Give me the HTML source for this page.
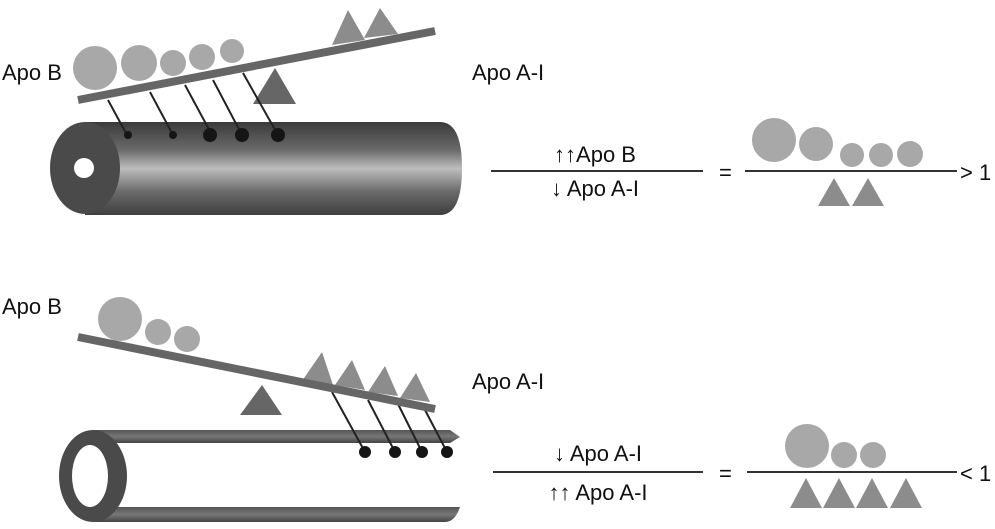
<!DOCTYPE html>
<html><head><style>
html,body{margin:0;padding:0;background:#fff;}
svg{display:block;}
text{font-family:"Liberation Sans",sans-serif;font-size:22px;fill:#111;}
</style></head><body>
<svg width="995" height="529" viewBox="0 0 995 529" xmlns="http://www.w3.org/2000/svg">
<defs>
<linearGradient id="tube" x1="0" y1="0" x2="0" y2="1">
<stop offset="0" stop-color="#3a3a3a"/>
<stop offset="0.3" stop-color="#6a6a6a"/>
<stop offset="0.5" stop-color="#bdbdbd"/>
<stop offset="0.75" stop-color="#6a6a6a"/>
<stop offset="1" stop-color="#3e3e3e"/>
</linearGradient>
<linearGradient id="bar" x1="0" y1="0" x2="0" y2="1">
<stop offset="0" stop-color="#555"/>
<stop offset="0.5" stop-color="#777"/>
<stop offset="1" stop-color="#444"/>
</linearGradient>
</defs>
<!-- TOP -->
<text x="2" y="80">Apo B</text>
<text x="472" y="80">Apo A-I</text>
<path d="M85 122 L440 122 Q462 122 462 168 Q462 215 440 215 L85 215 Z" fill="url(#tube)"/>
<ellipse cx="85" cy="168" rx="35" ry="46" fill="#4a4a4a"/>
<circle cx="84" cy="168" r="10" fill="#fff"/>
<polygon points="275,68 253,104 296,104" fill="#666"/>
<g stroke="#222" stroke-width="2">
<line x1="108" y1="100" x2="127" y2="135"/>
<line x1="150" y1="92" x2="173" y2="135"/>
<line x1="185" y1="85" x2="212" y2="135"/>
<line x1="213" y1="80" x2="242" y2="135"/>
<line x1="243" y1="73" x2="278" y2="135"/>
</g>
<g fill="#151515">
<circle cx="128" cy="135" r="4"/><circle cx="173" cy="135" r="4"/>
<circle cx="210" cy="135" r="7"/><circle cx="242" cy="135" r="7"/><circle cx="278" cy="135" r="7"/>
</g>
<polygon points="348,10 332,45 365,40" fill="#8c8c8c"/>
<polygon points="380,8 364,38 398,34" fill="#8c8c8c"/>
<g fill="#a8a8a8">
<circle cx="95" cy="68" r="22"/><circle cx="139" cy="63" r="18"/>
<circle cx="173" cy="63" r="13"/><circle cx="202" cy="57" r="13"/><circle cx="232" cy="51" r="12"/>
</g>
<line x1="78" y1="100" x2="435" y2="31" stroke="#666" stroke-width="8"/>
<text x="595" y="162" text-anchor="middle">↑↑Apo B</text>
<line x1="491" y1="171" x2="703" y2="171" stroke="#333" stroke-width="2"/>
<text x="595" y="196" text-anchor="middle">↓ Apo A-I</text>
<text x="719" y="180">=</text>
<line x1="745" y1="171" x2="957" y2="171" stroke="#333" stroke-width="2"/>
<text x="960" y="180">&gt; 1</text>
<g fill="#a8a8a8">
<circle cx="774" cy="140" r="22"/><circle cx="816" cy="144" r="17"/>
<circle cx="852" cy="155" r="12"/><circle cx="881" cy="155" r="12"/><circle cx="910" cy="154" r="13"/>
</g>
<polygon points="834,178 818,206 850,206" fill="#8c8c8c"/>
<polygon points="868,178 852,206 884,206" fill="#8c8c8c"/>
<!-- BOTTOM -->
<text x="2" y="314">Apo B</text>
<text x="472" y="389">Apo A-I</text>
<path d="M92 430 L450 430 L460 437 L450 443 L92 443 Z" fill="url(#bar)"/>
<path d="M92 507 L460 507 Q455 522 445 522 L92 522 Z" fill="url(#bar)"/>
<ellipse cx="93" cy="476" rx="34" ry="46" fill="#4a4a4a"/>
<ellipse cx="90" cy="476" rx="18" ry="31" fill="#fff"/>
<polygon points="262,385 240,415 282,415" fill="#666"/>
<g stroke="#222" stroke-width="2">
<line x1="332" y1="392" x2="365" y2="452"/>
<line x1="368" y1="400" x2="395" y2="452"/>
<line x1="398" y1="404" x2="422" y2="452"/>
<line x1="425" y1="410" x2="447" y2="452"/>
</g>
<g fill="#151515">
<circle cx="365" cy="452" r="6"/><circle cx="395" cy="452" r="6"/>
<circle cx="422" cy="452" r="6"/><circle cx="447" cy="452" r="6"/>
</g>
<g fill="#8c8c8c">
<polygon points="322,352 302,381 333,385"/>
<polygon points="352,360 335,385 365,390"/>
<polygon points="385,366 368,392 398,396"/>
<polygon points="416,373 400,398 430,402"/>
</g>
<g fill="#a8a8a8">
<circle cx="120" cy="319" r="22"/><circle cx="158" cy="332" r="13"/><circle cx="187" cy="339" r="13"/>
</g>
<line x1="78" y1="337" x2="435" y2="409" stroke="#666" stroke-width="8"/>
<text x="598" y="461" text-anchor="middle">↓ Apo A-I</text>
<line x1="493" y1="472" x2="703" y2="472" stroke="#333" stroke-width="2"/>
<text x="598" y="500" text-anchor="middle">↑↑ Apo A-I</text>
<text x="719" y="481">=</text>
<line x1="747" y1="472" x2="957" y2="472" stroke="#333" stroke-width="2"/>
<text x="960" y="481">&lt; 1</text>
<g fill="#a8a8a8">
<circle cx="807" cy="446" r="22"/><circle cx="844" cy="455" r="13"/><circle cx="873" cy="455" r="13"/>
</g>
<g fill="#8c8c8c">
<polygon points="806,478 790,508 822,508"/>
<polygon points="839,478 823,508 855,508"/>
<polygon points="872,478 856,508 888,508"/>
<polygon points="906,478 890,508 922,508"/>
</g>
</svg>
</body></html>
